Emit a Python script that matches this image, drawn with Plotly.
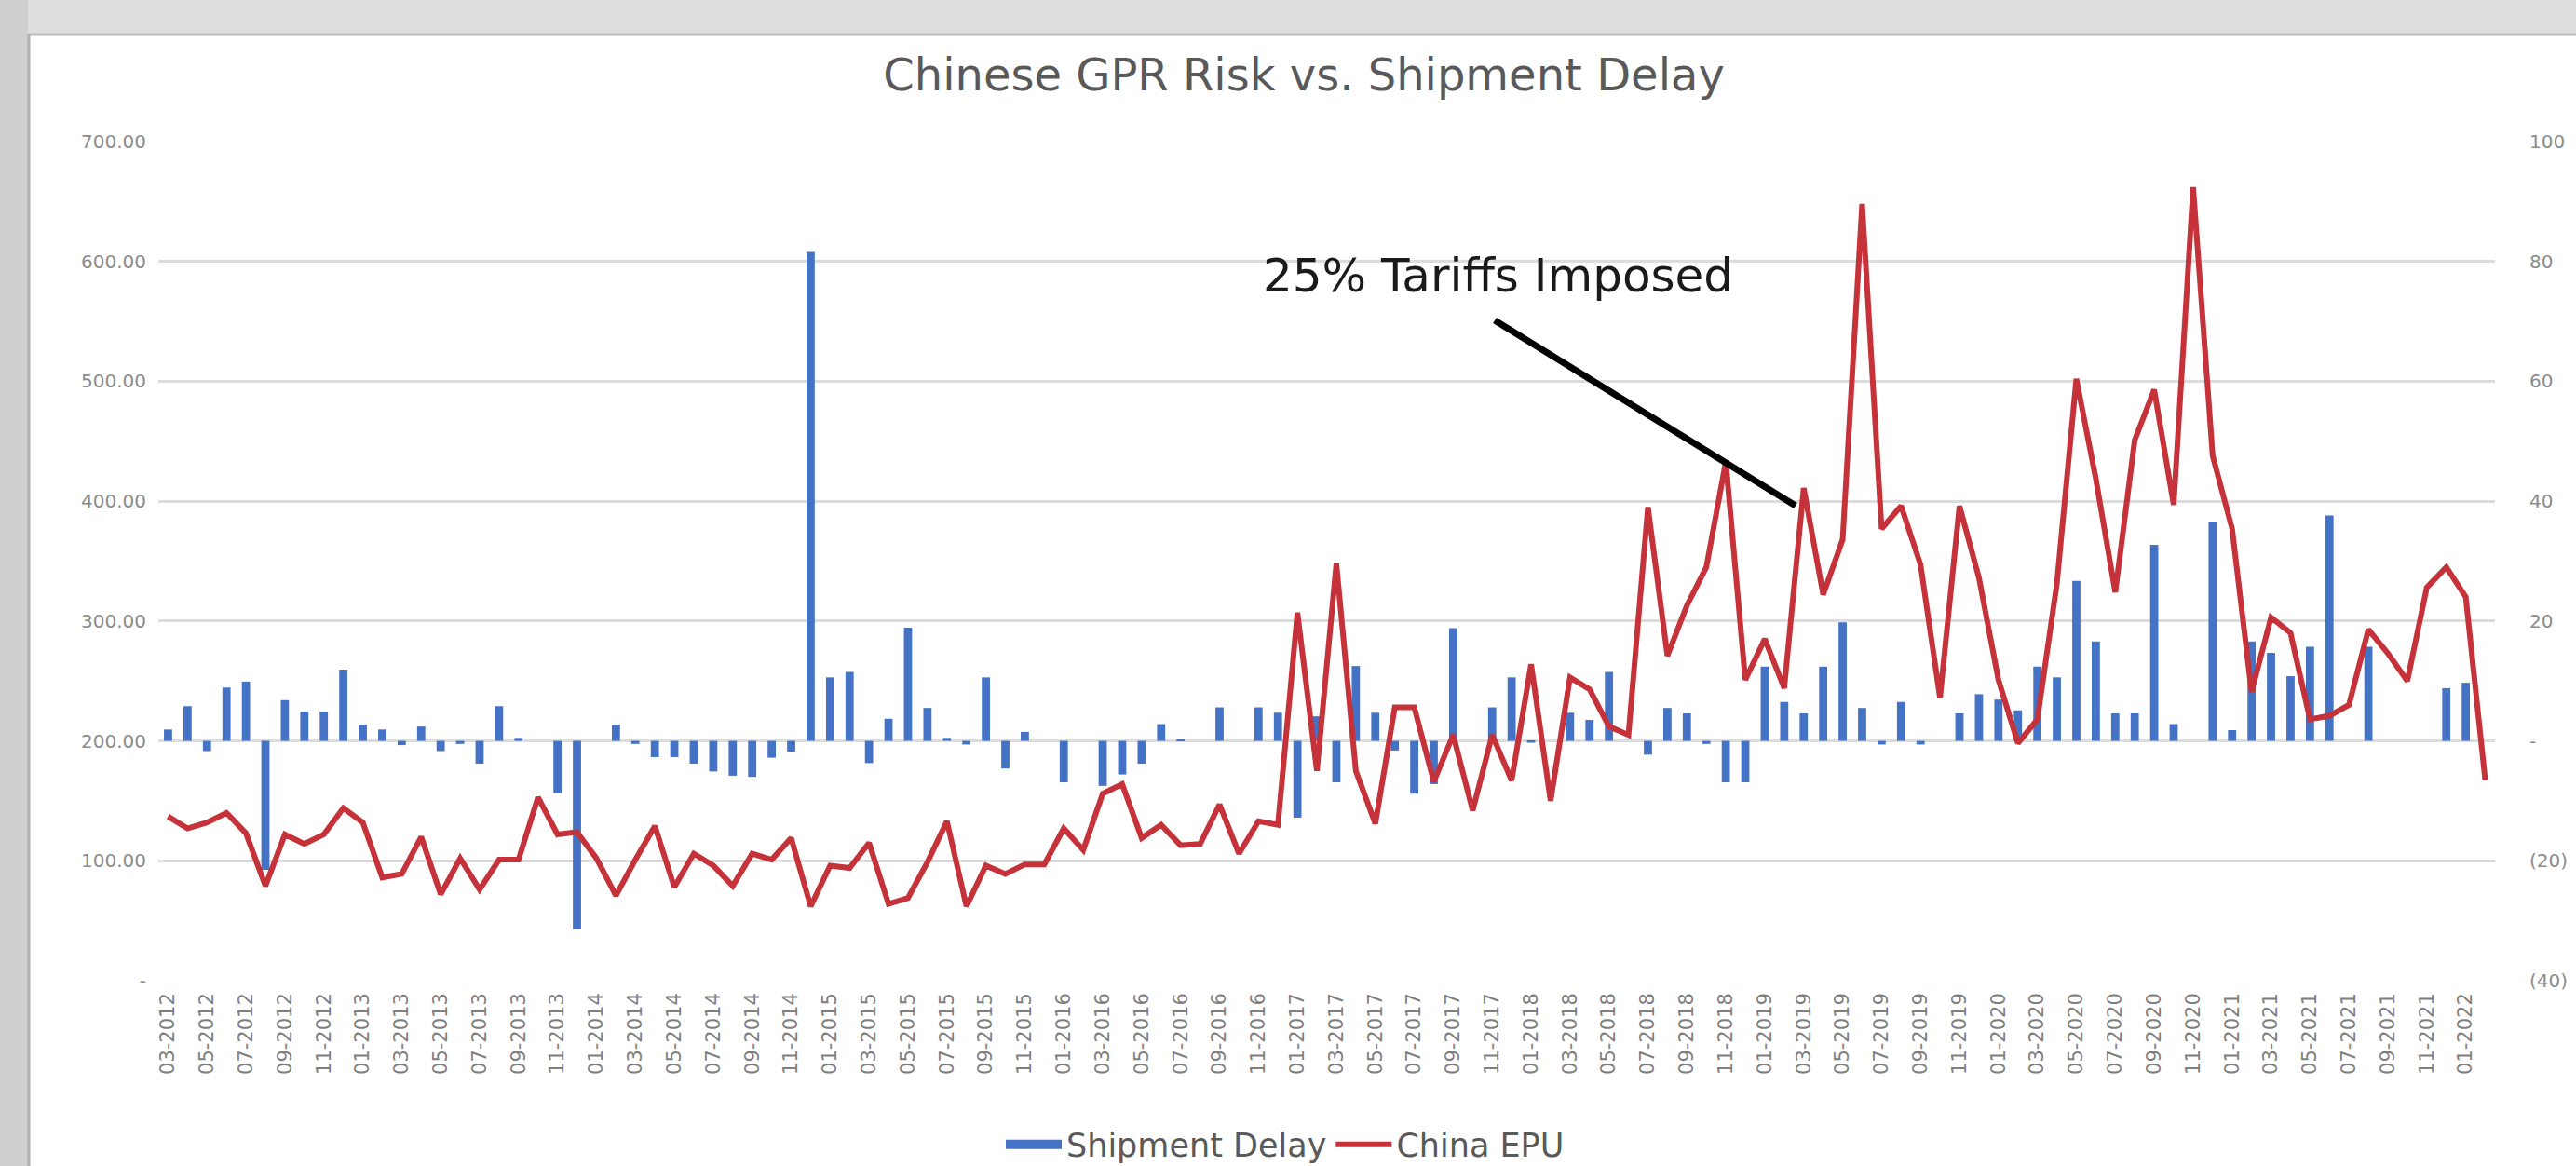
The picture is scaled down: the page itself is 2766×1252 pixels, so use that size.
import pandas as pd
import plotly.graph_objects as go

# ---- data ----
months = [p.strftime("%m-%Y") for p in pd.period_range("2012-03", periods=120, freq="M")]

china_epu = [
    137, 127, 132, 140, 123, 79, 122, 114, 122, 144,
    132, 86, 89, 120, 72, 102, 76, 101, 101, 153,
    122, 124, 102, 71, 101, 129, 78, 106, 96, 79,
    106, 101, 119, 62, 96, 94, 115, 64, 69, 99,
    133, 62, 96, 89, 97, 97, 127, 109, 156, 164,
    119, 130, 113, 114, 147, 106, 133, 130, 307, 175,
    348, 175, 131, 228, 228, 166, 205, 142, 205, 167,
    264, 150, 253, 243, 212, 205, 395, 271, 313, 345,
    433, 251, 285, 244, 411, 322, 368, 648, 377, 396,
    347, 236, 396, 336, 251, 198, 218, 331, 502, 419,
    324, 451, 493, 397, 662, 438, 377, 241, 303, 290,
    218, 221, 230, 293, 273, 250, 328, 345, 320, 167,
]

shipment_delay = [
    1.9, 5.8, -1.7, 8.9, 9.9, -21.5, 6.8, 4.9, 4.9, 11.9,
    2.7, 1.9, -0.7, 2.4, -1.7, -0.5, -3.8, 5.8, 0.5, 0.0,
    -8.7, -31.4, 0.0, 2.7, -0.5, -2.7, -2.7, -3.8, -5.1, -5.8,
    -6.0, -2.8, -1.8, 81.6, 10.6, 11.5, -3.7, 3.7, 18.9, 5.5,
    0.5, -0.6, 10.6, -4.6, 1.5, 0.0, -6.9, 0.0, -7.5, -5.6,
    -3.8, 2.8, 0.3, 0.0, 5.6, 0.0, 5.6, 4.7, -12.8, 4.1,
    -6.9, 12.5, 4.7, -1.6, -8.8, -7.2, 18.8, 0.0, 5.6, 10.6,
    -0.3, 0.0, 4.7, 3.5, 11.5, 0.0, -2.3, 5.5, 4.6, -0.5,
    -6.9, -6.9, 12.4, 6.5, 4.6, 12.4, 19.8, 5.5, -0.6, 6.5,
    -0.6, 0.0, 4.6, 7.8, 6.9, 5.1, 12.4, 10.6, 26.7, 16.6,
    4.6, 4.6, 32.7, 2.8, 0.0, 36.6, 1.8, 16.6, 14.7, 10.8,
    15.7, 37.6, 0.0, 15.7, 0.0, 0.0, 0.0, 8.8, 9.7, 0.0,
]

left_ticks = [0, 100, 200, 300, 400, 500, 600, 700]
left_ticktext = ["-", "100.00", "200.00", "300.00", "400.00", "500.00", "600.00", "700.00"]
right_ticks = [-40, -20, 0, 20, 40, 60, 80, 100]
right_ticktext = ["(40)", "(20)", "-", "20", "40", "60", "80", "100"]

title_text = "Chinese GPR Risk vs. Shipment Delay"
note_text = "25% Tariffs Imposed"

W, H = 2766, 1252
ML, MR, MT, MB = 170, 87, 152, 199
PW, PH = W - ML - MR, H - MT - MB

def px(x):
    return (x - ML) / PW

def py(y):
    return (H - MB - y) / PH

FONT = "DejaVu Sans"
BLUE = "#4472c4"
RED = "#c5323a"

fig = go.Figure()
fig.add_trace(go.Bar(
    x=months, y=shipment_delay, name="Shipment Delay",
    marker=dict(color=BLUE, line=dict(width=0)), yaxis="y",
    legendgroup="sd", showlegend=False,
))
# legend entry drawn as a wide blue swatch, linked to the bars
fig.add_trace(go.Scatter(
    x=[None], y=[None], name="Shipment Delay", mode="lines",
    line=dict(color=BLUE, width=10), yaxis="y", legendgroup="sd",
))
fig.add_trace(go.Scatter(
    x=months, y=china_epu, name="China EPU", mode="lines",
    line=dict(color=RED, width=6), yaxis="y2",
))

fig.update_layout(
    width=W, height=H,
    margin=dict(l=ML, r=MR, t=MT, b=MB, autoexpand=False),
    paper_bgcolor="white", plot_bgcolor="white",
    font=dict(family=FONT, color="#7f7f7f"),
    bargap=0.58,
    title=dict(text=title_text, x=1400 / W, xanchor="center", y=1 - 80 / H, yanchor="middle",
               font=dict(size=48, color="#595959", family=FONT)),
    xaxis=dict(
        type="category", tickvals=months[::2], ticktext=months[::2], tickangle=-90,
        tickfont=dict(size=21, color="#7f7f7f"), showgrid=False, showline=False,
        ticks="", range=[-0.5, len(months) - 0.5], ticklabelstandoff=8, automargin=False,
    ),
    yaxis=dict(
        side="right", range=[-40, 100], tickvals=right_ticks, ticktext=right_ticktext,
        tickfont=dict(size=20, color="#8c8c8c"), showgrid=True, gridcolor="#dcdcdc", gridwidth=3,
        zeroline=False, showline=False, ticklabelstandoff=36, automargin=False,
    ),
    yaxis2=dict(
        side="left", overlaying="y", range=[0, 700], tickvals=left_ticks, ticktext=left_ticktext,
        tickfont=dict(size=20, color="#8c8c8c"), showgrid=False, zeroline=False, showline=False,
        ticklabelstandoff=12, automargin=False,
    ),
    legend=dict(orientation="h", x=px(1380), xanchor="center", y=py(1229), yanchor="middle",
                font=dict(size=35, color="#595959"), itemwidth=60, bgcolor="rgba(0,0,0,0)"),
    annotations=[dict(
        text=note_text, xref="paper", yref="paper", x=px(1609), y=py(296),
        xanchor="center", yanchor="middle", showarrow=False,
        font=dict(size=50, color="#1a1a1a", family=FONT),
    )],
    shapes=[
        dict(type="rect", xref="paper", yref="paper", x0=px(0), x1=px(W), y0=py(36), y1=py(0),
             fillcolor="#dedede", line=dict(width=0), layer="below"),
        dict(type="rect", xref="paper", yref="paper", x0=px(0), x1=px(30), y0=py(H), y1=py(0),
             fillcolor="#cfcfcf", line=dict(width=0), layer="below"),
        dict(type="line", xref="paper", yref="paper", x0=px(30), x1=px(W), y0=py(37), y1=py(37),
             line=dict(color="#bdbdbd", width=3), layer="below"),
        dict(type="line", xref="paper", yref="paper", x0=px(31), x1=px(31), y0=py(H), y1=py(37),
             line=dict(color="#b0b0b0", width=3), layer="below"),
        dict(type="line", xref="paper", yref="paper", x0=px(1605), y0=py(344), x1=px(1928), y1=py(543),
             line=dict(color="black", width=7)),
    ],
)

fig.write_html("out.html", config={"displayModeBar": False},
               post_script="document.body.style.margin='0';")
